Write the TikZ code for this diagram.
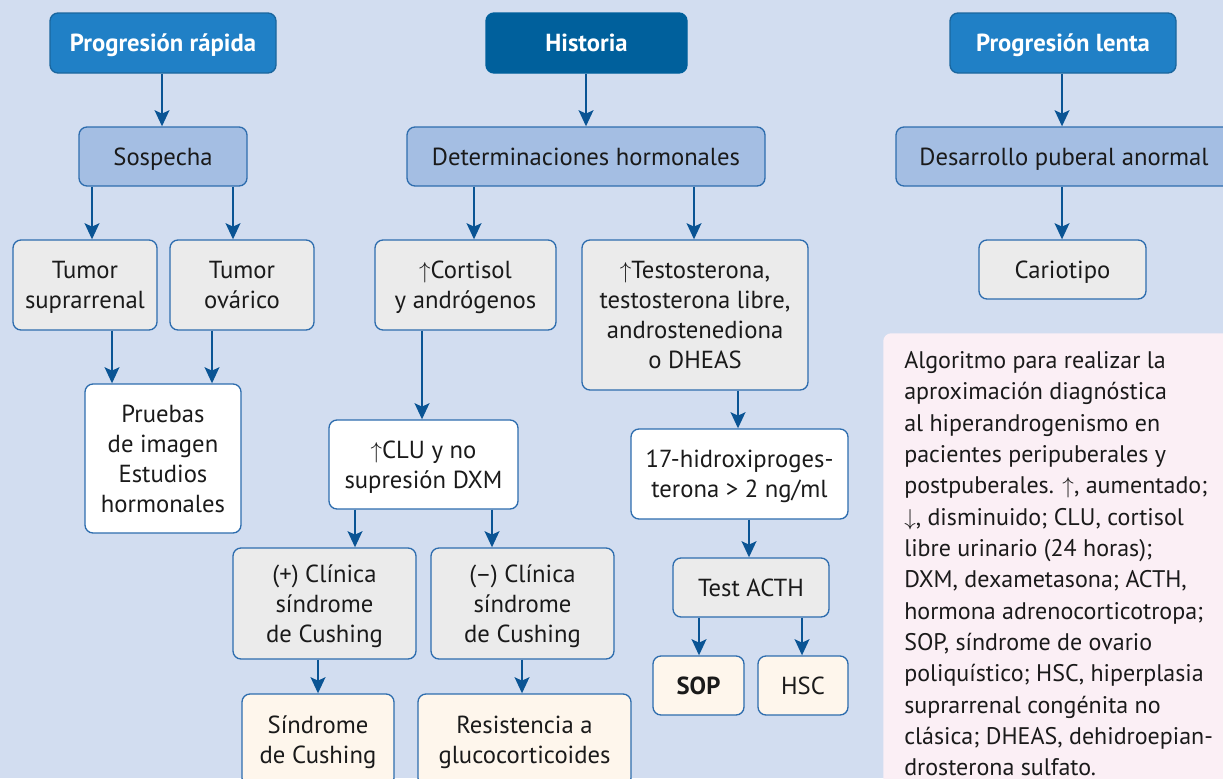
\documentclass[tikz,border=0pt]{standalone}
\usepackage{fontspec}
\setmainfont{PT Sans}
\usetikzlibrary{arrows.meta}
\definecolor{bg}{HTML}{D2DDF0}
\definecolor{hblue}{HTML}{2080C6}
\definecolor{hdark}{HTML}{00609C}
\definecolor{lblue}{HTML}{A4BEE3}
\definecolor{bord}{HTML}{2E6DAE}
\definecolor{gfill}{HTML}{EBEBEB}
\definecolor{cream}{HTML}{FEF6EC}
\definecolor{legc}{HTML}{FBEFF5}
\definecolor{arrc}{HTML}{0A5494}
\definecolor{txt}{HTML}{1A1A1A}
\begin{document}
\begin{tikzpicture}[x=0.75pt,y=-0.75pt,
  sz/.style 2 args={minimum width=#1*0.75pt, minimum height=#2*0.75pt},
  bx/.style={draw=bord, line width=1pt, rounded corners=6pt, align=center, inner sep=0pt, text depth=0pt, text=txt, font=\fontsize{18.5}{22.5}\selectfont},
  hbox/.style={bx, fill=hblue, draw=hblue!80!black, text=white, font=\fontsize{18.5}{22.5}\selectfont\bfseries},
  hdbox/.style={hbox, fill=hdark, draw=hdark},
  lbox/.style={bx, fill=lblue},
  gbox/.style={bx, fill=gfill},
  wbox/.style={bx, fill=white},
  cbox/.style={bx, fill=cream},
  arr/.style={draw=arrc, line width=2pt, -{Stealth[length=12pt,width=11pt,inset=2.5pt]}},
  legbox/.style={fill=legc, rounded corners=6pt},
  legtext/.style={align=left, inner sep=0pt, text=txt, font=\fontsize{18}{23.5}\selectfont}
]
\useasboundingbox[fill=bg] (0,0) rectangle (1223,778);

% headers
\node[hbox, sz={226}{60}] (pr) at (163,43) {Progresión rápida};
\node[hdbox, sz={201}{60}] (hist) at (586.5,43) {Historia};
\node[hbox, sz={226}{60}] (pl) at (1063,43) {Progresión lenta};

% level 2
\node[lbox, sz={168}{59}] (sosp) at (163,156.5) {Sospecha};
\node[lbox, sz={358}{59}] (det) at (586,156.5) {Determinaciones hormonales};
\node[lbox, sz={336}{59}] (des) at (1064,156.5) {Desarrollo puberal anormal};

% level 3
\node[gbox, sz={144}{90}] (tsup) at (85,285) {Tumor\\suprarrenal};
\node[gbox, sz={144}{90}] (tov) at (242,285) {Tumor\\ovárico};
\node[gbox, sz={181}{90}] (cort) at (465.5,285) {$\uparrow$Cortisol\\y andrógenos};
\node[gbox, sz={226}{150}] (test) at (695,315) {$\uparrow$Testosterona,\\testosterona libre,\\androstenediona\\o DHEAS};
\node[gbox, sz={167}{59}] (cari) at (1062.5,269.5) {Cariotipo};

% level 4
\node[wbox, sz={156}{149}] (prue) at (163,458.5) {Pruebas\\de imagen\\Estudios\\hormonales};
\node[wbox, sz={189}{89}] (clu) at (423.5,464.5) {$\uparrow$CLU y no\\supresión DXM};
\node[wbox, sz={217}{90}] (oh) at (739.5,474) {17-hidroxiproges-\\terona > 2 ng/ml};

% level 5
\node[gbox, sz={183}{111}] (clip) at (324.5,603.5) {(+) Clínica\\síndrome\\de Cushing};
\node[gbox, sz={183}{111}] (clim) at (522.5,603.5) {(–) Clínica\\síndrome\\de Cushing};
\node[gbox, sz={156}{59}] (acth) at (751,587.5) {Test ACTH};

% level 6
\node[cbox, sz={91}{59}] (sop) at (698.5,685.5) {\textbf{SOP}};
\node[cbox, sz={90}{59}] (hsc) at (803,685.5) {HSC};
\node[cbox, sz={152}{92}] (sc) at (318,740) {Síndrome\\de Cushing};
\node[cbox, sz={213}{92}] (rg) at (524.5,740) {Resistencia a\\glucocorticoides};

% legend
\node[legbox, anchor=north west, sz={360}{470}] (leg) at (883,333) {};
\node[legtext, anchor=north west] (legt) at (904,351) {Algoritmo para realizar la\\
aproximación diagnóstica\\
al hiperandrogenismo en\\
pacientes peripuberales y\\
postpuberales. $\uparrow$, aumentado;\\
$\downarrow$, disminuido; CLU, cortisol\\
libre urinario (24 horas);\\
DXM, dexametasona; ACTH,\\
hormona adrenocorticotropa;\\
SOP, síndrome de ovario\\
poliquístico; HSC, hiperplasia\\
suprarrenal congénita no\\
clásica; DHEAS, dehidroepian-\\
drosterona sulfato.};

% arrows
\draw[arr] (pr.south -| 162,0) -- (sosp.north -| 162,0);
\draw[arr] (hist.south -| 586,0) -- (det.north -| 586,0);
\draw[arr] (pl.south -| 1062,0) -- (des.north -| 1062,0);
\draw[arr] (sosp.south -| 92,0) -- (tsup.north -| 92,0);
\draw[arr] (sosp.south -| 233,0) -- (tov.north -| 233,0);
\draw[arr] (det.south -| 474,0) -- (cort.north -| 474,0);
\draw[arr] (det.south -| 694,0) -- (test.north -| 694,0);
\draw[arr] (des.south -| 1062,0) -- (cari.north -| 1062,0);
\draw[arr] (tsup.south -| 112,0) -- (prue.north -| 112,0);
\draw[arr] (tov.south -| 212,0) -- (prue.north -| 212,0);
\draw[arr] (cort.south -| 422,0) -- (clu.north -| 422,0);
\draw[arr] (test.south -| 738,0) -- (oh.north -| 738,0);
\draw[arr] (clu.south -| 355,0) -- (clip.north -| 355,0);
\draw[arr] (clu.south -| 492,0) -- (clim.north -| 492,0);
\draw[arr] (oh.south -| 749,0) -- (acth.north -| 749,0);
\draw[arr] (acth.south -| 699,0) -- (sop.north -| 699,0);
\draw[arr] (acth.south -| 802,0) -- (hsc.north -| 802,0);
\draw[arr] (clip.south -| 318,0) -- (sc.north -| 318,0);
\draw[arr] (clim.south -| 522,0) -- (rg.north -| 522,0);
\end{tikzpicture}
\end{document}
